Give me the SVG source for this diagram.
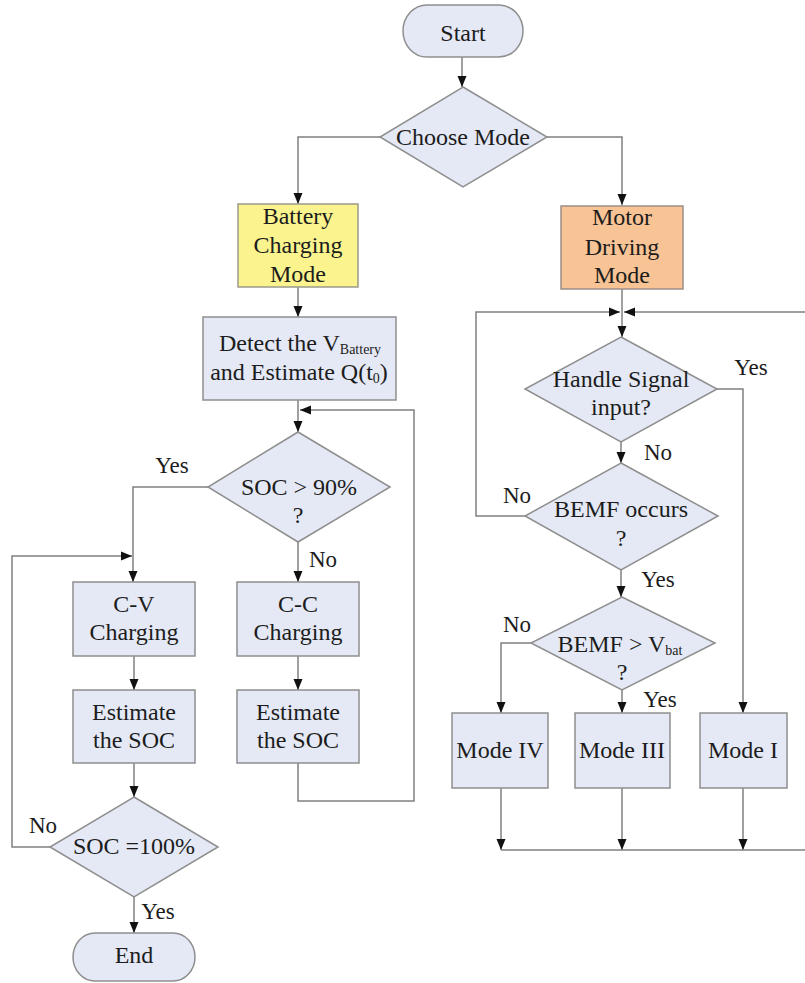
<svg xmlns="http://www.w3.org/2000/svg" width="805" height="983" viewBox="0 0 805 983">
<defs>
<marker id="ah" markerUnits="userSpaceOnUse" markerWidth="12" markerHeight="12" viewBox="0 0 12 12" refX="11" refY="6" orient="auto">
<path d="M0,1.5 L11,6 L0,10.5 Z" fill="#111"/>
</marker>
<style>
.n{fill:#e4e9f5;stroke:#8e8e8e;stroke-width:1.5}
.y{fill:#fbf48e;stroke:#9a9a8a;stroke-width:1.5}
.o{fill:#f8c395;stroke:#9a8f88;stroke-width:1.5}
.c{fill:none;stroke:#808080;stroke-width:1.5}
.a{marker-end:url(#ah)}
text{font-family:"Liberation Serif","Times New Roman",serif;font-size:24px;fill:#1c1c1c;text-anchor:middle}
.l{font-size:23px}
.s{font-size:14px}
</style>
</defs>
<rect width="805" height="983" fill="#ffffff"/>
<g id="connectors">
<path class="c a" d="M462,57 V87"/>
<path class="c a" d="M380,137 H298 V204"/>
<path class="c a" d="M547,137 H622 V205"/>
<path class="c a" d="M298,287 V317"/>
<path class="c a" d="M298,400 V432"/>
<path class="c a" d="M208,487 H133 V582"/>
<path class="c a" d="M298,542 V582"/>
<path class="c a" d="M134,656 V690"/>
<path class="c a" d="M298,656 V690"/>
<path class="c a" d="M298,763 V801 H414 V410 H300"/>
<path class="c a" d="M134,763 V797"/>
<path class="c a" d="M50,847 H12 V556 H132"/>
<path class="c a" d="M134,897 V933"/>
<path class="c" d="M622,289 V312"/>
<path class="c a" d="M622,312 V337"/>
<path class="c a" d="M717,389 H743 V713"/>
<path class="c a" d="M621,442 V463"/>
<path class="c a" d="M525,516 H476 V312 H620"/>
<path class="c a" d="M806,312 H624"/>
<path class="c a" d="M621,570 V597"/>
<path class="c a" d="M531,643 H501 V713"/>
<path class="c a" d="M622,690 V713"/>
<path class="c a" d="M501,788 V850"/>
<path class="c a" d="M622,788 V850"/>
<path class="c a" d="M743,788 V850"/>
<path class="c" d="M501,850 H806"/>
</g>
<g id="start"><rect class="n" x="403" y="5" width="120" height="52" rx="24" ry="26"/><text x="463" y="41">Start</text></g>
<g id="choose"><polygon class="n" points="463,87 547,137 463,187 380,137"/><text x="463" y="145">Choose Mode</text></g>
<g id="battery"><rect class="y" x="238" y="204" width="120" height="83"/><text x="298" y="224">Battery</text><text x="298" y="253">Charging</text><text x="298" y="282">Mode</text></g>
<g id="detect"><rect class="n" x="203" y="317" width="193" height="83"/><text x="300" y="351">Detect the V<tspan class="s" dy="3">Battery</tspan></text><text x="299" y="380">and Estimate Q(t<tspan class="s" dy="3">0</tspan><tspan dy="-3">)</tspan></text></g>
<g id="soc90"><polygon class="n" points="298,432 390,487 298,542 208,487"/><text x="299" y="495">SOC &gt; 90%</text><text x="298" y="523">?</text></g>
<g id="cv"><rect class="n" x="73" y="582" width="122" height="74"/><text x="134" y="612">C-V</text><text x="134" y="640">Charging</text></g>
<g id="cc"><rect class="n" x="237" y="582" width="122" height="74"/><text x="298" y="612">C-C</text><text x="298" y="640">Charging</text></g>
<g id="est1"><rect class="n" x="73" y="690" width="122" height="73"/><text x="134" y="720">Estimate</text><text x="134" y="748">the SOC</text></g>
<g id="est2"><rect class="n" x="237" y="690" width="122" height="73"/><text x="298" y="720">Estimate</text><text x="298" y="748">the SOC</text></g>
<g id="soc100"><polygon class="n" points="134,797 218,847 134,897 50,847"/><text x="134" y="854">SOC =100%</text></g>
<g id="end"><rect class="n" x="73" y="933" width="122" height="48" rx="22" ry="24"/><text x="134" y="963">End</text></g>
<g id="motor"><rect class="o" x="561" y="206" width="122" height="83"/><text x="622" y="225">Motor</text><text x="622" y="255">Driving</text><text x="622" y="283">Mode</text></g>
<g id="handle"><polygon class="n" points="621,337 717,389 621,442 525,389"/><text x="621" y="387">Handle Signal</text><text x="621" y="415">input?</text></g>
<g id="bemf"><polygon class="n" points="621,463 718,516 621,570 525,516"/><text x="621" y="517">BEMF occurs</text><text x="621" y="546">?</text></g>
<g id="vbat"><polygon class="n" points="622,597 715,643 622,690 531,643"/><text x="620" y="652">BEMF &gt; V<tspan class="s" dy="3">bat</tspan></text><text x="622" y="680">?</text></g>
<g id="mode4"><rect class="n" x="452" y="713" width="96" height="75"/><text x="500" y="758">Mode IV</text></g>
<g id="mode3"><rect class="n" x="575" y="713" width="95" height="75"/><text x="622" y="758">Mode III</text></g>
<g id="mode1"><rect class="n" x="700" y="713" width="87" height="75"/><text x="743" y="758">Mode I</text></g>
<g id="labels">
<text class="l" x="172" y="473">Yes</text>
<text class="l" x="323" y="567">No</text>
<text class="l" x="43" y="833">No</text>
<text class="l" x="158" y="919">Yes</text>
<text class="l" x="751" y="375">Yes</text>
<text class="l" x="658" y="460">No</text>
<text class="l" x="517" y="503">No</text>
<text class="l" x="658" y="587">Yes</text>
<text class="l" x="517" y="632">No</text>
<text class="l" x="660" y="707">Yes</text>
</g>
</svg>
